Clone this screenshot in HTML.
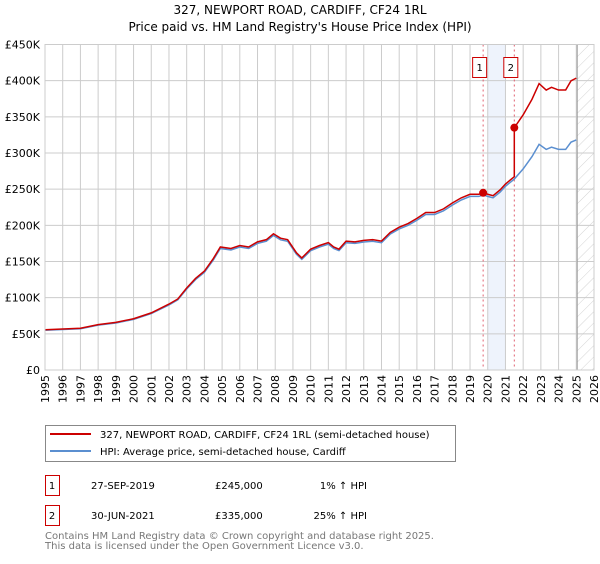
<!DOCTYPE html>
<html><head><meta charset="utf-8"><style>
body{margin:0;background:#fff;font-family:"DejaVu Sans","Liberation Sans",sans-serif;}
svg text{font-family:"DejaVu Sans","Liberation Sans",sans-serif;}
</style></head><body>
<svg id="c" width="600" height="560" viewBox="0 0 600 560">
<defs><pattern id="hatch" width="8" height="8" patternUnits="userSpaceOnUse" patternTransform="rotate(45)"><line x1="0" y1="0" x2="0" y2="8" stroke="#d4d4d4" stroke-width="1"/></pattern></defs>
<text x="300" y="14" text-anchor="middle" font-size="12">327, NEWPORT ROAD, CARDIFF, CF24 1RL</text>
<text x="300" y="31" text-anchor="middle" font-size="12">Price paid vs. HM Land Registry's House Price Index (HPI)</text>
<g id="plot"></g>
<g>
<rect x="45.5" y="425.5" width="410" height="36" fill="#fff" stroke="#888"/>
<line x1="50" y1="434" x2="91" y2="434" stroke="#cc0000" stroke-width="2"/>
<text x="100" y="438" font-size="10">327, NEWPORT ROAD, CARDIFF, CF24 1RL (semi-detached house)</text>
<line x1="50" y1="451" x2="91" y2="451" stroke="#5b8fd0" stroke-width="2"/>
<text x="100" y="455" font-size="10">HPI: Average price, semi-detached house, Cardiff</text>
</g>
<g font-size="10">
<rect x="45.5" y="475.5" width="14" height="20" fill="#fff" stroke="#cc0000"/><text x="52" y="489" text-anchor="middle">1</text>
<text x="91" y="489">27-SEP-2019</text><text x="215" y="489">£245,000</text><text x="367" y="489" text-anchor="end">1% ↑ HPI</text>
<rect x="45.5" y="505.5" width="14" height="20" fill="#fff" stroke="#cc0000"/><text x="52" y="519" text-anchor="middle">2</text>
<text x="91" y="519">30-JUN-2021</text><text x="215" y="519">£335,000</text><text x="367" y="519" text-anchor="end">25% ↑ HPI</text>
</g>
<text x="45" y="539" font-size="10" fill="#777">Contains HM Land Registry data © Crown copyright and database right 2025.</text>
<text x="45" y="549" font-size="10" fill="#777">This data is licensed under the Open Government Licence v3.0.</text>
</svg>
<script>
const hpiYears=[1995,1996,1997,1998,1999,2000,2001,2002,2002.5,2003,2003.5,2004,2004.5,2004.9,2005.5,2006,2006.5,2007,2007.5,2007.9,2008.3,2008.7,2009.2,2009.5,2010,2010.5,2011,2011.3,2011.6,2012,2012.5,2013,2013.5,2014,2014.5,2015,2015.5,2016,2016.5,2017,2017.5,2018,2018.5,2019,2019.5,2019.74,2020,2020.3,2020.7,2021,2021.5,2022,2022.5,2022.9,2023.3,2023.6,2024,2024.4,2024.7,2025];
const hpiValues=[55,56,57,62,65,70,78,90,97,112,125,135,152,168,166,170,168,175,178,186,180,178,160,153,165,170,174,168,165,176,175,177,178,176,188,195,200,207,215,215,220,228,235,240,240,242,240,238,246,254,264,278,295,312,305,308,305,305,315,318];
const saleYears=[2019.74,2021.5];
const salePrices=[245,335];
const saleLabels=["1","2"];
const yTicks=[0,50,100,150,200,250,300,350,400,450];
const yTickLabels=["£0","£50K","£100K","£150K","£200K","£250K","£300K","£350K","£400K","£450K"];
const xTicks=[1995,1996,1997,1998,1999,2000,2001,2002,2003,2004,2005,2006,2007,2008,2009,2010,2011,2012,2013,2014,2015,2016,2017,2018,2019,2020,2021,2022,2023,2024,2025,2026];
const X0=45,X1=594,Y0=370,Y1=44.5;
const xs=y=>X0+(y-1995)/(2026-1995)*(X1-X0);
const ys=v=>Y0-v/450*(Y0-Y1);
const NS="http://www.w3.org/2000/svg";
const g=document.getElementById('plot');
function mk(t,a,p){const e=document.createElementNS(NS,t);for(const k in a)e.setAttribute(k,a[k]);(p||g).appendChild(e);return e;}
let band=mk('rect',{x:xs(2020),y:Y1,width:xs(2021)-xs(2020),height:Y0-Y1,fill:'#eef3fc'});


let fut=mk('rect',{x:xs(2025.05),y:Y1,width:X1-xs(2025.05),height:Y0-Y1,fill:'url(#hatch)'});


xTicks.forEach(t=>{const l=mk('line',{x1:xs(t),x2:xs(t),y1:Y1,y2:Y0,stroke:'#ccc'});


const tx=mk('text',{x:0,y:0,'font-size':11,'text-anchor':'end',transform:`translate(${xs(t)+4},${Y0+5}) rotate(-90)`});tx.textContent=t;

});
yTicks.forEach((t,i)=>{const l=mk('line',{x1:X0,x2:X1,y1:ys(t),y2:ys(t),stroke:'#ccc'});


const tx=mk('text',{x:40,y:ys(t)+4,'font-size':11,'text-anchor':'end'});tx.textContent=yTickLabels[i];

});
let vl=mk('line',{x1:xs(2025.05),x2:xs(2025.05),y1:Y1,y2:Y0,stroke:'#999'});


saleYears.forEach((s,i)=>{const l=mk('line',{x1:xs(s),x2:xs(s),y1:Y1,y2:Y0,stroke:'#e06070','stroke-dasharray':'2,3'});


const r=mk('rect',{x:xs(s)-10.5,y:57.5,width:14,height:20,fill:'#fff',stroke:'#cc0000'});


const t=mk('text',{x:xs(s)-3.5,y:71,'font-size':10,'text-anchor':'middle'});t.textContent=saleLabels[i];

});
let hp=mk('polyline',{points:hpiYears.map((y,i)=>xs(y)+','+ys(hpiValues[i])).join(' '),fill:'none',stroke:'#5b8fd0','stroke-width':1.5});


function hpiAt(y){for(let i=1;i<hpiYears.length;i++){if(y<=hpiYears[i]){const f=(y-hpiYears[i-1])/(hpiYears[i]-hpiYears[i-1]);return hpiValues[i-1]+f*(hpiValues[i]-hpiValues[i-1]);}}return hpiValues[hpiValues.length-1];}
const r1=salePrices[0]/hpiAt(saleYears[0]),r2=salePrices[1]/hpiAt(saleYears[1]);
const pts=[];
hpiYears.forEach((y,i)=>{if(y<saleYears[1])pts.push([y,hpiValues[i]*r1]);});
pts.push([saleYears[1],hpiAt(saleYears[1])*r1]);pts.push([saleYears[1],salePrices[1]]);
hpiYears.forEach((y,i)=>{if(y>saleYears[1])pts.push([y,hpiValues[i]*r2]);});
let pl=mk('polyline',{points:pts.map(p=>xs(p[0])+','+ys(p[1])).join(' '),fill:'none',stroke:'#cc0000','stroke-width':1.5});


saleYears.forEach((s,i)=>{const c=mk('circle',{cx:xs(s),cy:ys(salePrices[i]),r:4,fill:'#cc0000'});

});
let fr=mk('rect',{x:X0,y:Y1,width:X1-X0,height:Y0-Y1,fill:'none',stroke:'#ccc'});


</script>
</body></html>
